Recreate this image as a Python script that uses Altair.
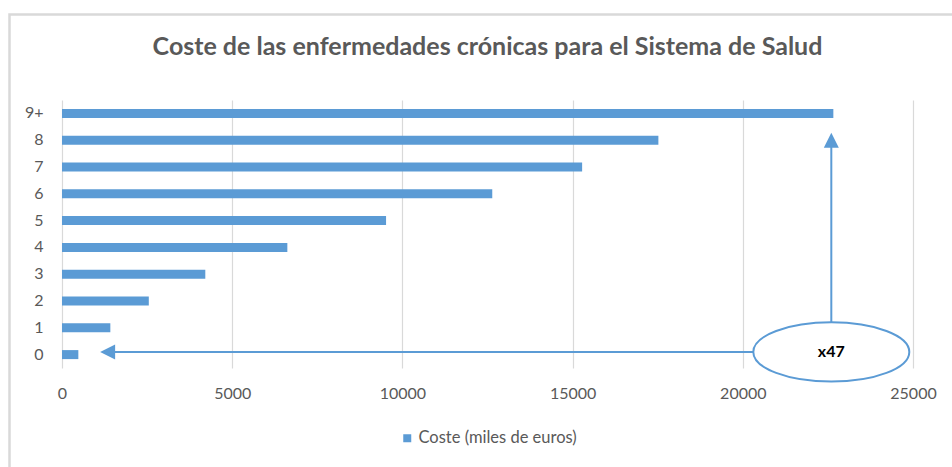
import altair as alt
import pandas as pd

# ---- data ----
categories = ["0", "1", "2", "3", "4", "5", "6", "7", "8", "9+"]
costs = [480, 1420, 2550, 4210, 6620, 9520, 12640, 15280, 17520, 22660]
series_name = "Coste (miles de euros)"
x_ticks = [0, 5000, 10000, 15000, 20000, 25000]

# annotation (in data units: x = cost, y = category index)
ann_label = "x47"
ann_x = 22600          # x of ellipse centre / vertical arrow
ann_y = 0.1            # y of ellipse centre / horizontal arrow
left_head_x = 1340     # horizontal arrow head
up_head_y = 8.0        # vertical arrow head

BLUE = "#5B9BD5"
GREY = "#595959"
FONT = "Lato"

bars_df = pd.DataFrame({"cat": categories, "cost": costs, "serie": [series_name] * len(categories)})
one = pd.DataFrame({"x": [ann_x], "y": [ann_y], "label": [ann_label]})
hline_df = pd.DataFrame({"x": [left_head_x], "x2": [ann_x], "y": [ann_y]})
vline_df = pd.DataFrame({"x": [ann_x], "y": [up_head_y], "y2": [ann_y]})
lhead_df = pd.DataFrame({"x": [left_head_x], "y": [ann_y]})
uhead_df = pd.DataFrame({"x": [ann_x], "y": [up_head_y]})

xscale = alt.Scale(domain=[0, 25000], nice=False, zero=True)
yq = alt.Scale(domain=[-0.5, 9.5], nice=False, zero=False)

bars = alt.Chart(bars_df).mark_bar(size=9).encode(
    x=alt.X("cost:Q", scale=xscale, title=None,
            axis=alt.Axis(values=x_ticks, format="d", grid=True, gridColor="#D9D9D9",
                          gridWidth=1.2, ticks=False, domain=False, labelPadding=17,
                          labelFlush=False, labelFontSize=16, labelColor=GREY, labelFont=FONT)),
    y=alt.Y("cat:N", sort=categories[::-1], title=None,
            scale=alt.Scale(paddingInner=0, paddingOuter=0),
            axis=alt.Axis(ticks=False, domain=False, labelPadding=19, labelFontSize=16,
                          labelColor=GREY, labelFont=FONT)),
    color=alt.Color("serie:N", scale=alt.Scale(range=[BLUE]),
                    legend=alt.Legend(title=None, orient="none", legendX=337, legendY=330,
                                      symbolType="square", symbolSize=64, labelFontSize=16.5,
                                      labelOffset=3, labelColor=GREY, labelFont=FONT)),
)

hline = alt.Chart(hline_df).mark_rule(color=BLUE, strokeWidth=2).encode(
    x=alt.X("x:Q", scale=xscale), x2="x2:Q",
    y=alt.Y("y:Q", scale=yq, axis=None),
)
vline = alt.Chart(vline_df).mark_rule(color=BLUE, strokeWidth=2).encode(
    x=alt.X("x:Q", scale=xscale),
    y=alt.Y("y:Q", scale=yq, axis=None), y2="y2:Q",
)
lhead = alt.Chart(lhead_df).mark_point(
    shape="M -1,0 L 1,-1 L 1,1 Z", size=225, filled=True, color=BLUE, opacity=1, strokeWidth=0
).encode(x=alt.X("x:Q", scale=xscale), y=alt.Y("y:Q", scale=yq, axis=None))
uhead = alt.Chart(uhead_df).mark_point(
    shape="M 0,-1 L 1,1 L -1,1 Z", size=225, filled=True, color=BLUE, opacity=1, strokeWidth=0
).encode(x=alt.X("x:Q", scale=xscale), y=alt.Y("y:Q", scale=yq, axis=None))

k, r = 0.5523, 0.38
ell_path = (f"M -1,0 C -1,{-k*r:.4f} {-k:.4f},{-r} 0,{-r} C {k:.4f},{-r} 1,{-k*r:.4f} 1,0 "
            f"C 1,{k*r:.4f} {k:.4f},{r} 0,{r} C {-k:.4f},{r} -1,{k*r:.4f} -1,0 Z")
ellipse = alt.Chart(one).mark_point(
    shape=ell_path, size=156 * 156, filled=False, fill="white", stroke=BLUE, strokeWidth=2, opacity=1
).encode(x=alt.X("x:Q", scale=xscale), y=alt.Y("y:Q", scale=yq, axis=None))
label = alt.Chart(one).mark_text(font=FONT, fontWeight="bold", fontSize=16, color="black").encode(
    x=alt.X("x:Q", scale=xscale), y=alt.Y("y:Q", scale=yq, axis=None), text="label:N"
)

border = alt.Chart(one).mark_rect(fill="transparent", stroke="#D9D9D9", strokeWidth=2.5).encode(
    x=alt.value(-52.5), x2=alt.value(900), y=alt.value(-85.5), y2=alt.value(390)
)

chart = alt.layer(border, bars, hline, vline, lhead, uhead, ellipse, label).resolve_scale(
    y="independent"
).properties(
    width=851, height=268,
    background="white",
    autosize=alt.AutoSizeParams(type="none"),
    padding={"left": 62, "top": 100, "right": 39, "bottom": 99},
    title=alt.TitleParams(
        "Coste de las enfermedades crónicas para el Sistema de Salud",
        anchor="middle", frame="group", font=FONT, fontSize=25, fontWeight="bold",
        color=GREY, offset=0, dy=67, baseline="alphabetic",
    ),
).configure_view(stroke="transparent", strokeWidth=0)

chart.save("out.html", embed_options={"renderer": "svg", "actions": False})
